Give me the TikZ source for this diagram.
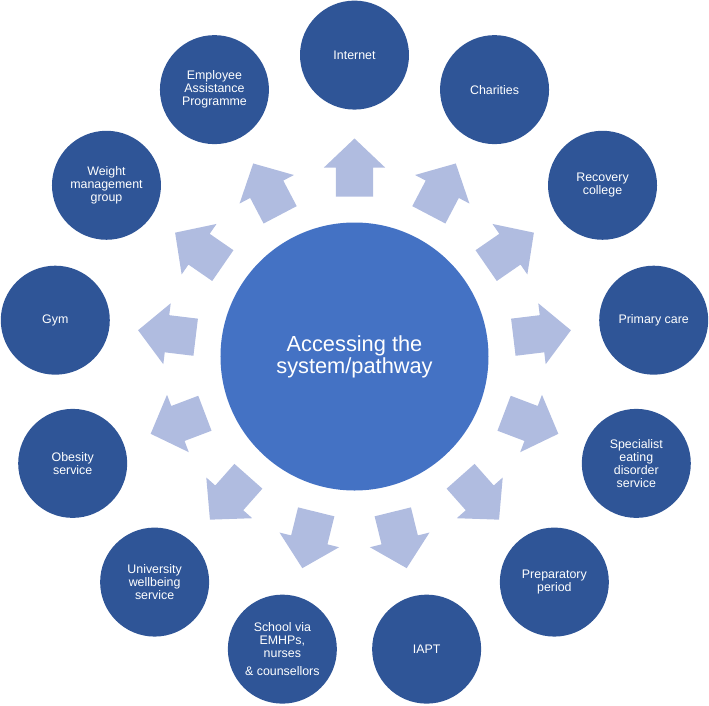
\documentclass[tikz,border=0pt]{standalone}
\usepackage{fontspec}
\setmainfont{Liberation Sans}
\usetikzlibrary{shapes.arrows,calc}
\definecolor{hubblue}{RGB}{68,114,196}
\definecolor{pathblue}{RGB}{47,85,151}
\definecolor{flowblue}{RGB}{176,188,224}
\tikzset{
  route/.style={circle, fill=pathblue, minimum size=109pt, inner sep=0pt, text=white, align=center, font=\fontsize{12.4}{13}\selectfont},
  flow/.style={single arrow, fill=flowblue, minimum height=58pt, inner xsep=0pt, inner ysep=18.5pt, single arrow head extend=12pt, single arrow tip angle=93, outer sep=0pt, anchor=tail}
}

\begin{document}
\begin{tikzpicture}[x=1pt, y=1pt]
\useasboundingbox (-354.5,-348.5) rectangle (354.5,356.5);
\node[circle, fill=hubblue, minimum size=268pt, inner sep=0pt, text=white, align=center, font=\fontsize{21.8}{22}\selectfont] (hub) at (0,0) {Accessing the\\system/pathway};

% outer circles, clockwise from the top
\node[route] (net) at (90:301.4) {Internet};
\node[route] (char) at (62.31:301.4) {Charities};
\node[route] (recov) at (34.62:301.4) {Recovery\\college};
\node[route] (prim) at (6.92:301.4) {Primary care};
\node[route] (eating) at (-20.77:301.4) {Specialist\\eating\\disorder\\service};
\node[route] (prep) at (-48.46:301.4) {Preparatory\\period};
\node[route] (iapt) at (-76.15:301.4) {IAPT};
\node[route] (school) at (-103.85:301.4) {School via\\EMHPs,\\nurses\\[5pt]\& counsellors};
\node[route] (univ) at (-131.54:301.4) {University\\wellbeing\\service};
\node[route] (obes) at (-159.23:301.4) {Obesity\\service};
\node[route] (gym) at (173.08:301.4) {Gym};
\node[route] (weight) at (145.38:301.4) {Weight\\management\\group};
\node[route] (emp) at (117.69:301.4) {Employee\\Assistance\\Programme};

% block arrows from the hub
\node[flow, rotate=90] (toNet) at ($(hub.center)!160pt!(net)$) {};
\node[flow, rotate=62.31] (toChar) at ($(hub.center)!160pt!(char)$) {};
\node[flow, rotate=34.62] (toRecov) at ($(hub.center)!160pt!(recov)$) {};
\node[flow, rotate=6.92] (toPrim) at ($(hub.center)!160pt!(prim)$) {};
\node[flow, rotate=-20.77] (toEating) at ($(hub.center)!160pt!(eating)$) {};
\node[flow, rotate=-48.46] (toPrep) at ($(hub.center)!160pt!(prep)$) {};
\node[flow, rotate=-76.15] (toIapt) at ($(hub.center)!160pt!(iapt)$) {};
\node[flow, rotate=-103.85] (toSchool) at ($(hub.center)!160pt!(school)$) {};
\node[flow, rotate=-131.54] (toUniv) at ($(hub.center)!160pt!(univ)$) {};
\node[flow, rotate=-159.23] (toObes) at ($(hub.center)!160pt!(obes)$) {};
\node[flow, rotate=173.08] (toGym) at ($(hub.center)!160pt!(gym)$) {};
\node[flow, rotate=145.38] (toWeight) at ($(hub.center)!160pt!(weight)$) {};
\node[flow, rotate=117.69] (toEmp) at ($(hub.center)!160pt!(emp)$) {};
\end{tikzpicture}
\end{document}
